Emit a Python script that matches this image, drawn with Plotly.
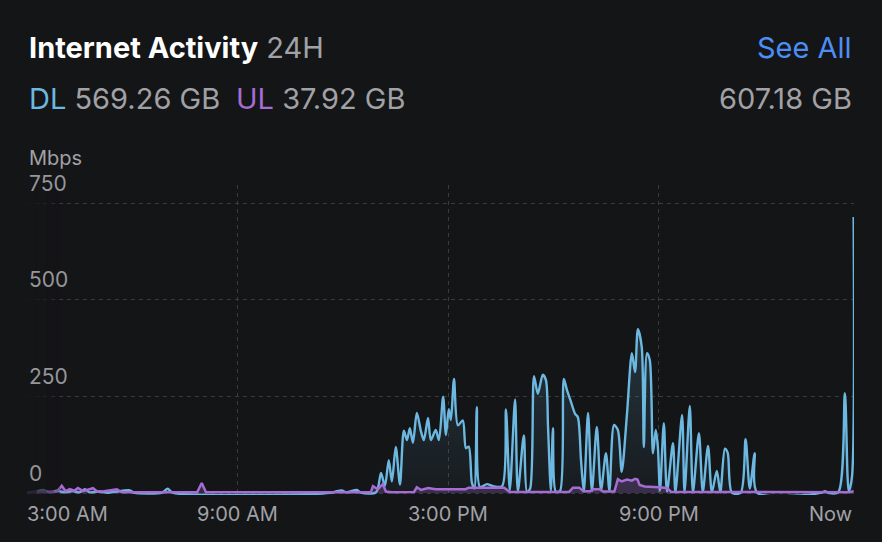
import plotly.graph_objects as go

# ---------------- data ----------------
# hours since midnight of the first day (24+ = next day)
dl_hours = [3.00, 3.25, 3.45, 3.65, 3.85, 4.05, 4.30, 4.50, 4.65, 4.78, 5.05, 5.30, 5.93, 6.05, 6.85, 7.01, 7.15,
            11.70, 11.83, 11.97, 12.10, 12.40, 12.52, 12.95, 13.09, 13.20, 13.31, 13.40, 13.51, 13.63, 13.74, 13.83,
            13.91, 14.00, 14.11, 14.23, 14.31, 14.43, 14.51, 14.65, 14.74, 14.86, 14.94, 15.02, 15.08, 15.17, 15.28,
            15.42, 15.51, 15.59, 15.68, 15.75, 15.82, 15.91, 16.11, 16.28, 16.54, 16.65, 16.76, 16.91, 16.99, 17.16,
            17.25, 17.34, 17.45, 17.56, 17.70, 17.79, 17.85, 17.93, 17.99, 18.07, 18.19, 18.30, 18.39, 18.50, 18.62,
            18.70, 18.79, 18.87, 18.99, 19.10, 19.24, 19.36, 19.50, 19.60, 19.73, 19.84, 19.95, 20.10, 20.24, 20.33,
            20.41, 20.52, 20.58, 20.67, 20.75, 20.84, 20.92, 20.98, 21.04, 21.15, 21.24, 21.41, 21.48, 21.67, 21.74,
            21.89, 21.98, 22.15, 22.26, 22.41, 22.52, 22.66, 22.76, 22.89, 22.97, 23.09, 23.34, 23.48, 23.60, 23.74,
            23.81, 25.65, 25.74, 25.83, 26.12, 26.31, 26.42, 26.51, 26.56]
dl_mbps = [1, 4, 8, 2, 6, 2, 5, 2, 10, 2, 4, 1, 7, 1, 1, 11, 1,
           1, 5, 7, 2, 8, 1, 2, 52, 18, 85, 30, 119, 22, 161, 137,
           168, 130, 207, 159, 137, 194, 137, 163, 137, 249, 150, 217, 189, 295, 175,
           188, 116, 120, 27, 12, 222, 16, 23, 18, 18, 216, 8, 242, 4, 149,
           3, 12, 302, 257, 306, 292, 171, 6, 168, 4, 5, 295, 266, 237, 205,
           196, 85, 4, 207, 5, 171, 8, 103, 6, 176, 163, 55, 205, 362, 313,
           424, 378, 119, 362, 344, 103, 163, 119, 6, 181, 4, 129, 2, 202, 2,
           225, 2, 155, 3, 122, 2, 57, 2, 115, 104, 1, 1, 139, 12, 103,
           1, 1, 5, 1, 2, 258, 5, 40, 714]

ul_hours = [3.00, 3.50, 3.85, 3.99, 4.10, 4.22, 4.35, 4.45, 4.60, 4.88, 5.00, 5.20, 5.56, 5.70, 7.85, 7.98, 8.10,
            12.80, 12.86, 13.00, 13.14, 13.23, 13.40, 14.03, 14.11, 14.23, 14.43, 14.65, 15.50, 15.59, 16.60, 16.76,
            18.45, 18.56, 18.74, 18.86, 19.05, 19.15, 19.33, 19.42, 19.74, 19.84, 19.95, 20.10, 20.24, 20.33, 20.40,
            20.46, 20.60, 21.00, 21.24, 21.36, 26.45, 26.56]
ul_mbps = [1, 3, 4, 19, 5, 10, 6, 13, 5, 13, 4, 5, 10, 2, 2, 26, 2,
           2, 18, 10, 23, 4, 2, 3, 15, 8, 13, 10, 10, 14, 14, 3,
           3, 14, 14, 5, 5, 10, 10, 4, 4, 36, 30, 35, 32, 37, 35,
           21, 17, 15, 13, 3, 2, 5]

y_tick_vals = [0, 250, 500, 750]
x_grid_vals = [9, 15, 21]
x_tick_vals = [3, 9, 15, 21]
x_tick_text = ["3:00 AM", "9:00 AM", "3:00 PM", "9:00 PM"]
now_label = "Now"

title_text = "Internet Activity"
period_text = "24H"
dl_total = "569.26 GB"
ul_total = "37.92 GB"
all_total = "607.18 GB"

# ---------------- styles ----------------
BG = "#141517"
DL_COLOR = "#6cb8e0"
UL_COLOR = "#a66cd6"
GRAY = "#a1a1a6"
TICK_GRAY = "#96969b"
GRID = "#3a3b3f"
FONT = "Inter"

fig = go.Figure()

fig.add_trace(go.Scatter(
    x=dl_hours, y=dl_mbps, mode="lines",
    line=dict(color=DL_COLOR, width=2.4, shape="spline", smoothing=0.8),
    fill="tozeroy",
    fillgradient=dict(type="vertical", start=0, stop=420,
                      colorscale=[[0, "rgba(108,184,224,0.04)"], [1, "rgba(108,184,224,0.19)"]]),
    hoverinfo="skip", showlegend=False,
))

fig.add_trace(go.Scatter(
    x=ul_hours, y=ul_mbps, mode="lines",
    line=dict(color=UL_COLOR, width=2.5, shape="linear"),
    fill="tozeroy",
    fillcolor="rgba(166,108,214,0.24)",
    hoverinfo="skip", showlegend=False,
))

# soft fade-in at the left edge of the plot
shapes = []
fade_steps = [(0.00, 0.012, 0.85), (0.012, 0.024, 0.65), (0.024, 0.033, 0.45), (0.033, 0.040, 0.25)]
for x0, x1, op in fade_steps:
    shapes.append(dict(type="rect", xref="paper", yref="paper", x0=x0, x1=x1, y0=-0.02, y1=1.0,
                       fillcolor=BG, opacity=op, line=dict(width=0), layer="above"))

annotations = []
# y tick labels above the grid lines
for v in y_tick_vals:
    annotations.append(dict(x=0, xref="paper", y=v, yref="y", text=str(v), showarrow=False,
                            xanchor="left", yanchor="middle", yshift=20,
                            font=dict(family=FONT, size=21, color=TICK_GRAY)))
# x tick labels
for i, (xv, tx) in enumerate(zip(x_tick_vals, x_tick_text)):
    annotations.append(dict(x=xv, xref="x", y=0, yref="paper", text=tx, showarrow=False,
                            xanchor="left" if i == 0 else "center", yanchor="middle",
                            xshift=-2 if i == 0 else 0, yshift=-19,
                            font=dict(family=FONT, size=20, color=GRAY)))
annotations.append(dict(x=1, xref="paper", y=0, yref="paper", text=now_label, showarrow=False,
                        xanchor="right", yanchor="middle", yshift=-19,
                        font=dict(family=FONT, size=20, color=GRAY)))
# header
annotations.append(dict(x=0, xref="paper", y=1, yref="paper", showarrow=False,
                        text=f"<b>{title_text}</b> <span style='color:{GRAY}'>{period_text}</span>",
                        xanchor="left", yanchor="middle", yshift=138,
                        font=dict(family=FONT, size=29, color="#ffffff")))
annotations.append(dict(x=1, xref="paper", y=1, yref="paper", showarrow=False, text="See All",
                        xanchor="right", yanchor="middle", yshift=138,
                        font=dict(family=FONT, size=29, color="#4d8ef5")))
annotations.append(dict(x=0, xref="paper", y=1, yref="paper", showarrow=False,
                        text=f"<span style='color:{DL_COLOR}'>DL</span> {dl_total}",
                        xanchor="left", yanchor="middle", yshift=87,
                        font=dict(family=FONT, size=29, color=GRAY)))
annotations.append(dict(x=0, xref="paper", y=1, yref="paper", showarrow=False,
                        text=f"<span style='color:{UL_COLOR}'>UL</span> {ul_total}",
                        xanchor="left", yanchor="middle", xshift=207, yshift=87,
                        font=dict(family=FONT, size=29, color=GRAY)))
annotations.append(dict(x=1, xref="paper", y=1, yref="paper", showarrow=False, text=all_total,
                        xanchor="right", yanchor="middle", yshift=87,
                        font=dict(family=FONT, size=29, color=GRAY)))
annotations.append(dict(x=0, xref="paper", y=1, yref="paper", showarrow=False, text="Mbps",
                        xanchor="left", yanchor="middle", yshift=27,
                        font=dict(family=FONT, size=20, color=GRAY)))

fig.update_layout(
    width=882, height=542,
    margin=dict(l=27, r=28, t=185, b=47),
    paper_bgcolor=BG, plot_bgcolor=BG,
    font=dict(family=FONT, color=GRAY),
    annotations=annotations,
    shapes=shapes,
    xaxis=dict(range=[3.0, 26.57], tickvals=x_grid_vals, showticklabels=False, ticks="",
               showgrid=True, gridcolor=GRID, griddash="4px,4px", gridwidth=1,
               zeroline=False, showline=False, fixedrange=True),
    yaxis=dict(range=[-5, 796.7], tickvals=y_tick_vals, showticklabels=False, ticks="",
               showgrid=True, gridcolor=GRID, griddash="4px,4px", gridwidth=1,
               zeroline=False, showline=False, fixedrange=True),
)

fig.write_html(
    "out.html",
    config={"displayModeBar": False},
    post_script="document.body.style.margin='0';document.body.style.background='#141517';",
)
